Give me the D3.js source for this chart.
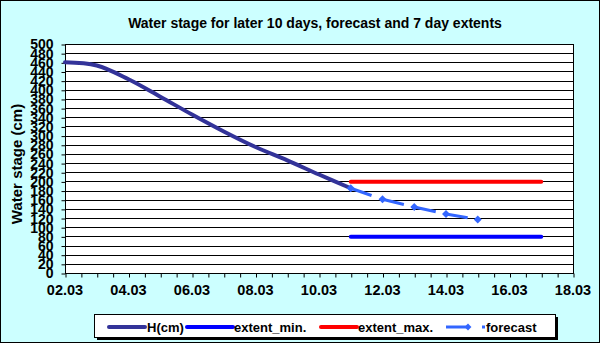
<!DOCTYPE html>
<html>
<head>
<meta charset="utf-8">
<script src="https://cdn.jsdelivr.net/npm/d3@7"></script>
<style>
  body { margin: 0; background: #fff; }
  text { font-family: "Liberation Sans", Arial, sans-serif; font-weight: bold; }
</style>
</head>
<body>
<svg id="chart" width="600" height="343"></svg>
<script>
// data
const hDays = [2, 3, 4, 5, 6, 7, 8, 9, 10, 11];
const hValues = [460, 453, 423, 385, 346, 309, 275, 246, 215, 185];
const forecastDays = [11, 12, 13, 14, 15];
const forecastValues = [185, 161, 144, 129, 117];
const extentDays = [11, 17];
const extentMin = [79, 79];
const extentMax = [199, 199];
const xTickLabels = ["02.03", "04.03", "06.03", "08.03", "10.03", "12.03", "14.03", "16.03", "18.03"];
const yTicks = d3.range(0, 501, 20);

const svg = d3.select("#chart"),
  width = +svg.attr("width"),
  height = +svg.attr("height");

const plot = { left: 65, right: 573, top: 44, bottom: 273 };

// background + frame
svg.append("rect")
  .attr("x", 0.5).attr("y", 0.5)
  .attr("width", width - 1).attr("height", height - 1)
  .attr("fill", "#ccffff")
  .attr("stroke", "#000");

const x = d3.scaleLinear().domain([2, 18]).range([plot.left, plot.right]);
const y = d3.scaleLinear().domain([0, 500]).range([plot.bottom, plot.top]);

// plot area
svg.append("rect")
  .attr("x", plot.left).attr("y", plot.top)
  .attr("width", plot.right - plot.left)
  .attr("height", plot.bottom - plot.top)
  .attr("fill", "#fff");

// gridlines
svg.append("g")
  .selectAll("line")
  .data(yTicks)
  .join("line")
  .attr("x1", plot.left).attr("x2", plot.right)
  .attr("y1", (d) => Math.round(y(d)) + 0.5)
  .attr("y2", (d) => Math.round(y(d)) + 0.5)
  .attr("stroke", "#000");

svg.append("rect")
  .attr("x", plot.left + 0.5).attr("y", plot.top + 0.5)
  .attr("width", plot.right - plot.left)
  .attr("height", plot.bottom - plot.top)
  .attr("fill", "none")
  .attr("stroke", "#000");

// y axis (labels overlap like the original)
const yAxis = d3.axisLeft(y)
  .tickValues(yTicks)
  .tickSize(4)
  .tickPadding(8);
const gy = svg.append("g")
  .attr("transform", `translate(${plot.left + 0.5},0.5)`)
  .call(yAxis);
gy.select(".domain").remove();
gy.selectAll("line").attr("stroke", "#000");
gy.selectAll("text")
  .attr("font-size", 14)
  .attr("font-family", null)
  .attr("fill", "#000");

// x axis: minor ticks every half day, labels every 2 days
const gx = svg.append("g")
  .attr("transform", `translate(0.5,${plot.bottom + 0.5})`)
  .call(d3.axisBottom(x).tickValues(d3.range(2, 18.01, 0.5)).tickSize(4).tickFormat(""));
gx.select(".domain").remove();
gx.selectAll("line").attr("stroke", "#000");

svg.append("g")
  .selectAll("text")
  .data(xTickLabels)
  .join("text")
  .attr("x", (d, i) => x(2 + i * 2))
  .attr("y", 295)
  .attr("text-anchor", "middle")
  .attr("font-size", 14.5)
  .text((d) => d);

// titles
svg.append("text")
  .attr("x", 315).attr("y", 28)
  .attr("text-anchor", "middle")
  .attr("font-size", 14)
  .text("Water stage for later 10 days, forecast and 7 day extents");

svg.append("text")
  .attr("transform", "translate(22,164) rotate(-90)")
  .attr("text-anchor", "middle")
  .attr("font-size", 15)
  .text("Water stage (cm)");

// series
const smooth = d3.line().x((d) => x(d[0])).y((d) => y(d[1])).curve(d3.curveCatmullRom);
const straight = d3.line().x((d) => x(d[0])).y((d) => y(d[1]));

svg.append("path")
  .datum(extentDays.map((d, i) => [d, extentMin[i]]))
  .attr("d", straight)
  .attr("fill", "none").attr("stroke", "#0000ff")
  .attr("stroke-width", 4).attr("stroke-linecap", "round");

svg.append("path")
  .datum(extentDays.map((d, i) => [d, extentMax[i]]))
  .attr("d", straight)
  .attr("fill", "none").attr("stroke", "#ff0000")
  .attr("stroke-width", 4).attr("stroke-linecap", "round");

svg.append("path")
  .datum(hDays.map((d, i) => [d, hValues[i]]))
  .attr("d", smooth)
  .attr("fill", "none").attr("stroke", "#333399")
  .attr("stroke-width", 4).attr("stroke-linecap", "round");

// forecast: dashed segments with diamond markers
const fc = forecastDays.map((d, i) => [d, forecastValues[i]]);
svg.append("g")
  .selectAll("path")
  .data(d3.pairs(fc))
  .join("path")
  .attr("d", (d) => straight(d))
  .attr("fill", "none").attr("stroke", "#3366ff")
  .attr("stroke-width", 3)
  .attr("stroke-dasharray", "22,10");

svg.append("g")
  .selectAll("path")
  .data(fc)
  .join("path")
  .attr("d", d3.symbol(d3.symbolDiamond2, 40))
  .attr("transform", (d) => `translate(${x(d[0])},${y(d[1])})`)
  .attr("fill", "#3366ff");

// legend
const lg = svg.append("g");
lg.append("rect")
  .attr("x", 97).attr("y", 317)
  .attr("width", 461).attr("height", 23)
  .attr("fill", "#000");
lg.append("rect")
  .attr("x", 94.5).attr("y", 314.5)
  .attr("width", 461).attr("height", 23)
  .attr("fill", "#fff").attr("stroke", "#000");

const legendItems = [
  { name: "H(cm)", color: "#333399", x1: 109, x2: 145, tx: 147 },
  { name: "extent_min.", color: "#0000ff", x1: 187, x2: 233, tx: 234 },
  { name: "extent_max.", color: "#ff0000", x1: 321, x2: 357, tx: 358 }
];
const ly = 327;
legendItems.forEach((it) => {
  lg.append("line")
    .attr("x1", it.x1).attr("x2", it.x2)
    .attr("y1", ly).attr("y2", ly)
    .attr("stroke", it.color).attr("stroke-width", 4)
    .attr("stroke-linecap", "round");
  lg.append("text")
    .attr("x", it.tx).attr("y", ly + 5)
    .attr("font-size", 13)
    .text(it.name);
});
lg.append("line")
  .attr("x1", 446).attr("x2", 468)
  .attr("y1", ly).attr("y2", ly)
  .attr("stroke", "#3366ff").attr("stroke-width", 3);
lg.append("path")
  .attr("d", d3.symbol(d3.symbolDiamond2, 30))
  .attr("transform", `translate(468,${ly})`)
  .attr("fill", "#3366ff");
lg.append("rect")
  .attr("x", 482).attr("y", ly - 1.5)
  .attr("width", 3).attr("height", 3)
  .attr("fill", "#3366ff");
lg.append("text")
  .attr("x", 486).attr("y", ly + 5)
  .attr("font-size", 13)
  .text("forecast");
</script>
</body>
</html>
